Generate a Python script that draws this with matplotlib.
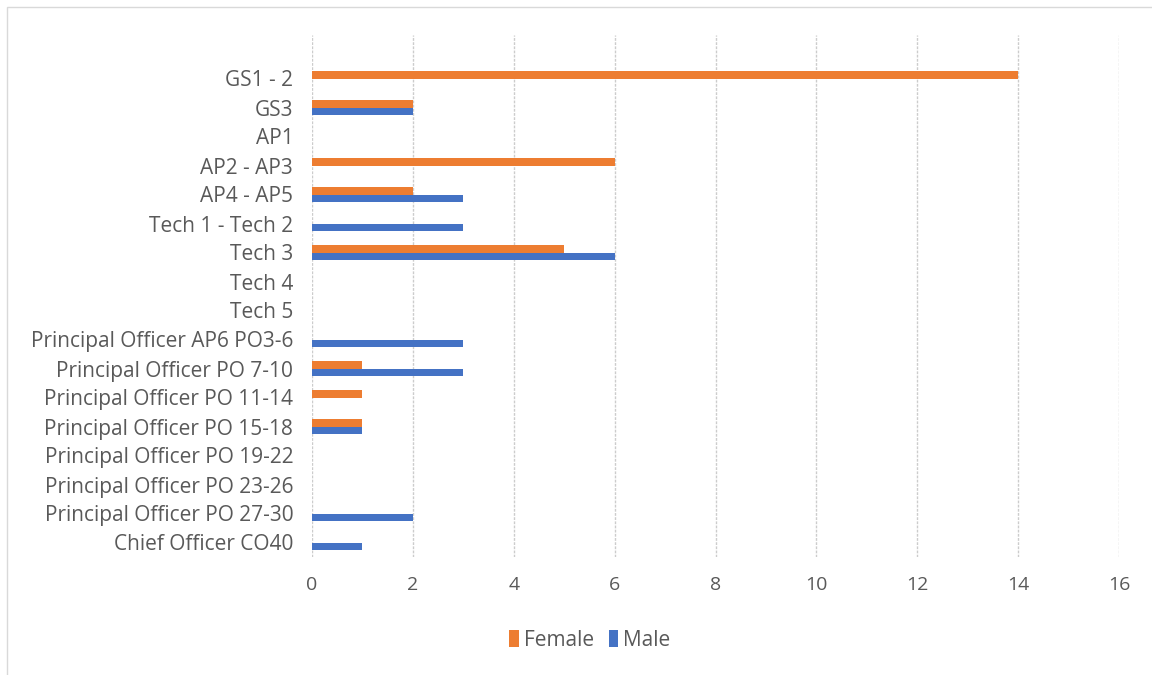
import matplotlib
matplotlib.use("Agg")
import matplotlib.pyplot as plt
from matplotlib.patches import Rectangle
import numpy as np

categories = [
    "GS1 - 2", "GS3", "AP1", "AP2 - AP3", "AP4 - AP5", "Tech 1 - Tech 2",
    "Tech 3", "Tech 4", "Tech 5", "Principal Officer AP6 PO3-6",
    "Principal Officer PO 7-10", "Principal Officer PO 11-14",
    "Principal Officer PO 15-18", "Principal Officer PO 19-22",
    "Principal Officer PO 23-26", "Principal Officer PO 27-30",
    "Chief Officer CO40",
]
female = [14, 2, 0, 6, 2, 0, 5, 0, 0, 0, 1, 1, 1, 0, 0, 0, 0]
male = [0, 2, 0, 0, 3, 3, 6, 0, 0, 3, 3, 0, 1, 0, 0, 2, 1]
x_ticks = [0, 2, 4, 6, 8, 10, 12, 14, 16]

ORANGE = "#ED7D31"
BLUE = "#4472C4"
TEXT = "#595959"

plt.rcParams["font.family"] = ["Open Sans", "DejaVu Sans"]

fig = plt.figure(figsize=(11.52, 6.75), dpi=100)
fig.patch.set_facecolor("white")

# chart-area frame
fig.patches.append(Rectangle((7 / 1152, -0.1), 1.2, 1 - 7 / 675 + 0.1,
                             transform=fig.transFigure, fill=False,
                             edgecolor="#D9D9D9", linewidth=1.0))

ax = fig.add_axes([312 / 1152, 1 - 557 / 675, (1119 - 312) / 1152, (557 - 35) / 675])

y = np.arange(len(categories))
h = 0.265
ax.barh(y - h / 2, female, height=h, color=ORANGE, label="Female")
ax.barh(y + h / 2, male, height=h, color=BLUE, label="Male")

ax.set_ylim(len(categories) - 0.5, -1.5)
ax.set_xlim(0, 16)
ax.set_xticks(x_ticks)
ax.set_xticklabels([str(t) for t in x_ticks])
ax.set_yticks(y)
ax.set_yticklabels(categories)

ax.grid(axis="x", color="#CCCCCC", linestyle=(0, (2, 1)), linewidth=1.0)
ax.set_axisbelow(True)
for s in ax.spines.values():
    s.set_visible(False)
ax.tick_params(axis="both", length=0, colors=TEXT)
ax.tick_params(axis="x", pad=14, labelsize=14)
ax.tick_params(axis="y", pad=13.5, labelsize=15)
for lbl in ax.get_yticklabels():
    lbl.set_y(lbl.get_position()[1])

fig.legend(loc="center", bbox_to_anchor=(590 / 1152, 1 - 640 / 675), ncol=2,
           frameon=False, fontsize=15, handlelength=0.45, handleheight=0.9,
           handletextpad=0.25, columnspacing=0.7, labelcolor=TEXT)

fig.savefig("out.png", dpi=100, facecolor="white")
